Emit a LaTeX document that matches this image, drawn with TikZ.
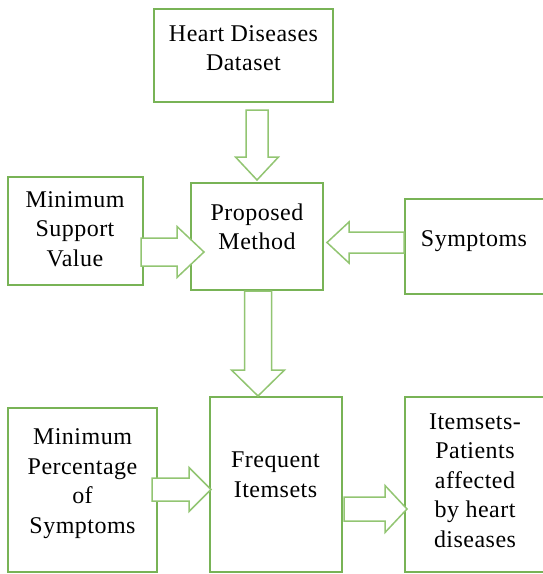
\documentclass[tikz,border=0pt]{standalone}
\usepackage{fontspec}
\setmainfont{Liberation Serif}[LetterSpace=2]
\usetikzlibrary{calc}
\definecolor{boxgreen}{HTML}{78B356}
\definecolor{arrgreen}{HTML}{92C572}
\tikzset{
  box/.style={draw=boxgreen, line width=1.8pt, rectangle, inner sep=0pt, outer sep=0pt, fill=none},
  lbl/.style={inner sep=0pt, align=center, text=black, font=\fontsize{24}{29.5}\selectfont},
  arrowline/.style={draw=arrgreen, line width=1.5pt, line join=miter, fill=white}
}
% #1 start, #2 tip, #3 shaft half width, #4 head half width, #5 head length
\newcommand{\blockarr}[5]{%
  \coordinate (hb) at ($(#2)!#5!(#1)$);
  \draw[arrowline] ($(#1)!#3!90:(#2)$) -- ($(hb)!#3!90:(#2)$) -- ($(hb)!#4!90:(#2)$) -- (#2)
    -- ($(hb)!#4!-90:(#2)$) -- ($(hb)!#3!-90:(#2)$) -- ($(#1)!#3!-90:(#2)$) -- cycle;
}
\begin{document}
\begin{tikzpicture}[x=1pt,y=-1pt]
\useasboundingbox (0,0) rectangle (543,574);
\fill[white] (0,0) rectangle (543,574);
% boxes
\node[box, minimum width=179pt, minimum height=93pt] (data) at (243.5,55.5) {};
\node[box, minimum width=132pt, minimum height=107pt] (pm) at (257,236.5) {};
\node[box, minimum width=135pt, minimum height=108pt] (msv) at (75.5,231) {};
\node[box, minimum width=143pt, minimum height=95pt] (sym) at (476.5,246.5) {};
\node[box, minimum width=149pt, minimum height=164pt] (mps) at (82.5,490) {};
\node[box, minimum width=132pt, minimum height=175pt] (fi) at (276,484.5) {};
\node[box, minimum width=143pt, minimum height=175pt] (its) at (476.5,484.5) {};
% arrow end points
\coordinate (a1s) at (257,110);
\coordinate (a1t) at (257,180);
\coordinate (a2s) at (258,291);
\coordinate (a2t) at (258,396);
\coordinate (a3s) at (141,252);
\coordinate (a3t) at (204,252);
\coordinate (a4s) at (404,242.5);
\coordinate (a4t) at (327,242.5);
\coordinate (a5s) at (152,489.5);
\coordinate (a5t) at (211,489.5);
\coordinate (a6s) at (344,509);
\coordinate (a6t) at (407,509);
\blockarr{a1s}{a1t}{11pt}{21.5pt}{23pt}
\blockarr{a2s}{a2t}{13.5pt}{26.5pt}{26pt}
\blockarr{a3s}{a3t}{14pt}{25.5pt}{27pt}
\blockarr{a4s}{a4t}{10.5pt}{20.5pt}{22pt}
\blockarr{a5s}{a5t}{11.5pt}{22pt}{22pt}
\blockarr{a6s}{a6t}{12pt}{23.5pt}{22pt}
% labels
\node[lbl] (tdata) at (243.5,48.3) {Heart Diseases\\Dataset};
\node[lbl] (tpm) at (257,227) {Proposed\\Method};
\node[lbl] (tmsv) at (75,229) {Minimum\\Support\\Value};
\node[lbl] (tsym) at (474,241) {Symptoms};
\node[lbl] (tfi) at (275.5,475) {Frequent\\Itemsets};
\node[lbl] (tmps) at (82.5,483.5) {Minimum\\Percentage\\of\\Symptoms};
\node[lbl] (tits) at (475,480.5) {Itemsets-\\Patients\\affected\\by heart\\diseases};
\end{tikzpicture}
\end{document}
